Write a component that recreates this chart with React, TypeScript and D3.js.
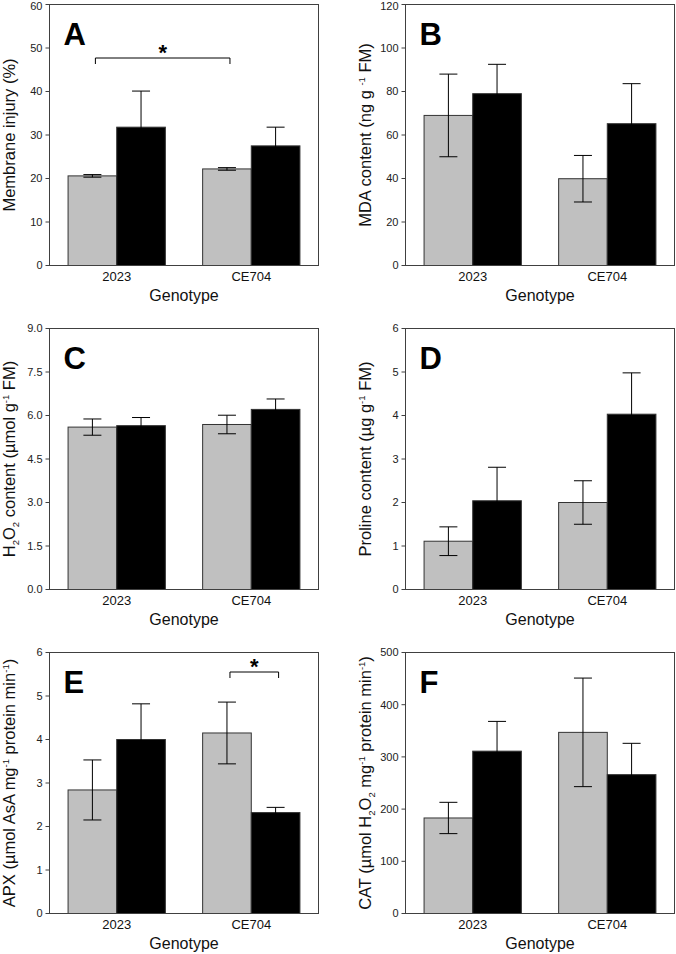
import React from 'react'
import * as d3 from 'd3'

// two genotypes, two treatments (grey = control, black = stressed)
const genotypes = ['2023', 'CE704']
const treatments = ['control', 'stress']
const barFills = ['#c0c0c0', '#000000']

// means and error values, [genotype][treatment]
const injuryMean = [[20.6, 31.8], [22.2, 27.5]]
const injuryErr = [[0.3, 8.3], [0.3, 4.3]]
const mdaMean = [[69.0, 79.0], [39.9, 65.2]]
const mdaErr = [[19.0, 13.5], [10.7, 18.4]]
const h2o2Mean = [[5.6, 5.65], [5.69, 6.21]]
const h2o2Err = [[0.28, 0.28], [0.32, 0.36]]
const prolineMean = [[1.11, 2.04], [2.0, 4.03]]
const prolineErr = [[0.33, 0.77], [0.5, 0.95]]
const apxMean = [[2.84, 4.0], [4.15, 2.32]]
const apxErr = [[0.69, 0.82], [0.71, 0.12]]
const catMean = [[183, 311], [347, 266]]
const catErr = [[30, 57], [104, 60]]

const injuryTicks = [0, 10, 20, 30, 40, 50, 60]
const mdaTicks = [0, 20, 40, 60, 80, 100, 120]
const h2o2Ticks = [0, 1.5, 3, 4.5, 6, 7.5, 9]
const prolineTicks = [0, 1, 2, 3, 4, 5, 6]
const apxTicks = [0, 1, 2, 3, 4, 5, 6]
const catTicks = [0, 100, 200, 300, 400, 500]

// significance brackets: [genotype, treatment] -> [genotype, treatment] at a value
const injuryStars = [{ from: [0, 0], to: [1, 0], at: 47.9 }]
const apxStars = [{ from: [1, 0], to: [1, 1], at: 5.56 }]

type Seg = [string, 'n' | 'sub' | 'sup']

const panels = [
  { letter: 'A', mean: injuryMean, err: injuryErr, ticks: injuryTicks, fmt: '', stars: injuryStars,
    label: [['Membrane injury (%)', 'n']] as Seg[] },
  { letter: 'B', mean: mdaMean, err: mdaErr, ticks: mdaTicks, fmt: '', stars: [],
    label: [['MDA content (ng g ', 'n'], ['-1', 'sup'], [' FM)', 'n']] as Seg[] },
  { letter: 'C', mean: h2o2Mean, err: h2o2Err, ticks: h2o2Ticks, fmt: '.1f', stars: [],
    label: [['H', 'n'], ['2', 'sub'], ['O', 'n'], ['2', 'sub'], [' content (\u00b5mol g', 'n'], ['-1', 'sup'], [' FM)', 'n']] as Seg[] },
  { letter: 'D', mean: prolineMean, err: prolineErr, ticks: prolineTicks, fmt: '', stars: [],
    label: [['Proline content (\u00b5g g', 'n'], ['-1', 'sup'], [' FM)', 'n']] as Seg[] },
  { letter: 'E', mean: apxMean, err: apxErr, ticks: apxTicks, fmt: '', stars: apxStars,
    label: [['APX (\u00b5mol AsA mg', 'n'], ['-1', 'sup'], [' protein min', 'n'], ['-1', 'sup'], [')', 'n']] as Seg[] },
  { letter: 'F', mean: catMean, err: catErr, ticks: catTicks, fmt: '', stars: [],
    label: [['CAT (\u00b5mol H', 'n'], ['2', 'sub'], ['O', 'n'], ['2', 'sub'], [' mg', 'n'], ['-1', 'sup'], [' protein min', 'n'], ['-1', 'sup'], [')', 'n']] as Seg[] },
]

const W = 676
const H = 954
const colX = [49.5, 405.5]
const rowY = [4.5, 328.5, 652.5]
const plotW = 269
const plotH = 261
const font = 'Liberation Sans, Arial, sans-serif'
const axisCol = '#404040'

const Label = ({ segs }: { segs: Seg[] }) => {
  let cur = 0
  return (
    <>
      {segs.map(([t, k], i) => {
        const target = k === 'sup' ? -6 : k === 'sub' ? 4 : 0
        const dy = target - cur
        cur = target
        return (
          <tspan key={i} dy={dy} fontSize={k === 'n' ? 16.5 : 9.5}>{t}</tspan>
        )
      })}
    </>
  )
}

const Panel = ({ p, x0, y0 }: { p: typeof panels[number]; x0: number; y0: number }) => {
  const max = p.ticks[p.ticks.length - 1]
  const y = d3.scaleLinear().domain([0, max]).range([plotH, 0])
  const xg = d3.scaleBand().domain(genotypes).range([0, plotW]).paddingInner(0.277).paddingOuter(0.138)
  const xt = d3.scaleBand().domain(treatments).range([0, xg.bandwidth()])
  const bw = xt.bandwidth()
  const fmt = p.fmt ? d3.format(p.fmt) : (v: number) => String(v)
  const cx = (g: number, t: number) => (xg(genotypes[g]) ?? 0) + (xt(treatments[t]) ?? 0) + bw / 2
  const cap = 9

  return (
    <g transform={`translate(${x0},${y0})`}>
      {genotypes.map((g, gi) =>
        treatments.map((t, ti) => {
          const m = p.mean[gi][ti]
          const e = p.err[gi][ti]
          const bx = (xg(g) ?? 0) + (xt(t) ?? 0)
          const c = bx + bw / 2
          return (
            <g key={g + t}>
              <rect x={bx} y={y(m)} width={bw} height={plotH - y(m)} fill={barFills[ti]} stroke="#333" strokeWidth={1} />
              <line x1={c} x2={c} y1={y(m - e)} y2={y(m + e)} stroke="#000" strokeWidth={1} />
              <line x1={c - cap} x2={c + cap} y1={y(m + e)} y2={y(m + e)} stroke="#000" strokeWidth={1} />
              <line x1={c - cap} x2={c + cap} y1={y(m - e)} y2={y(m - e)} stroke="#000" strokeWidth={1} />
            </g>
          )
        })
      )}
      {p.stars.map((s, i) => {
        const xa = cx(s.from[0], s.from[1]) + 3
        const xb = cx(s.to[0], s.to[1]) + 3
        const yy = Math.round(y(s.at)) + 0.5
        return (
          <g key={i}>
            <path d={`M${xa},${yy + 6}V${yy}H${xb}V${yy + 6}`} fill="none" stroke="#000" strokeWidth={1} />
            <text x={(xa + xb) / 2} y={yy + 2} textAnchor="middle" fontFamily={font} fontWeight="bold" fontSize={22}>*</text>
          </g>
        )
      })}
      <rect x={0} y={0} width={plotW} height={plotH} fill="none" stroke={axisCol} strokeWidth={1} />
      {p.ticks.map(v => (
        <g key={v} transform={`translate(0,${y(v)})`}>
          <line x1={-4} x2={0} stroke={axisCol} strokeWidth={1} />
          <text x={-7} y={Math.max(0, 6 - y0 - y(v))} dy="0.36em" textAnchor="end" fontFamily={font} fontSize={11} fill="#222">{fmt(v)}</text>
        </g>
      ))}
      {genotypes.map(g => (
        <text key={g} x={(xg(g) ?? 0) + xg.bandwidth() / 2} y={plotH + 15.5} textAnchor="middle" fontFamily={font} fontSize={13} fill="#111">{g}</text>
      ))}
      <text x={plotW / 2} y={plotH + 35} textAnchor="middle" fontFamily={font} fontSize={16} fill="#111">Genotype</text>
      <text transform={`translate(-35,${plotH / 2}) rotate(-90)`} textAnchor="middle" fontFamily={font} fill="#111">
        <Label segs={p.label} />
      </text>
      <text x={14} y={40} fontFamily={font} fontWeight="bold" fontSize={31}>{p.letter}</text>
    </g>
  )
}

export default function App() {
  return (
    <svg width={W} height={H} style={{ position: 'absolute', left: 0, top: 0, background: '#fff' }}>
      {panels.map((p, i) => (
        <Panel key={p.letter} p={p} x0={colX[i % 2]} y0={rowY[Math.floor(i / 2)]} />
      ))}
    </svg>
  )
}
